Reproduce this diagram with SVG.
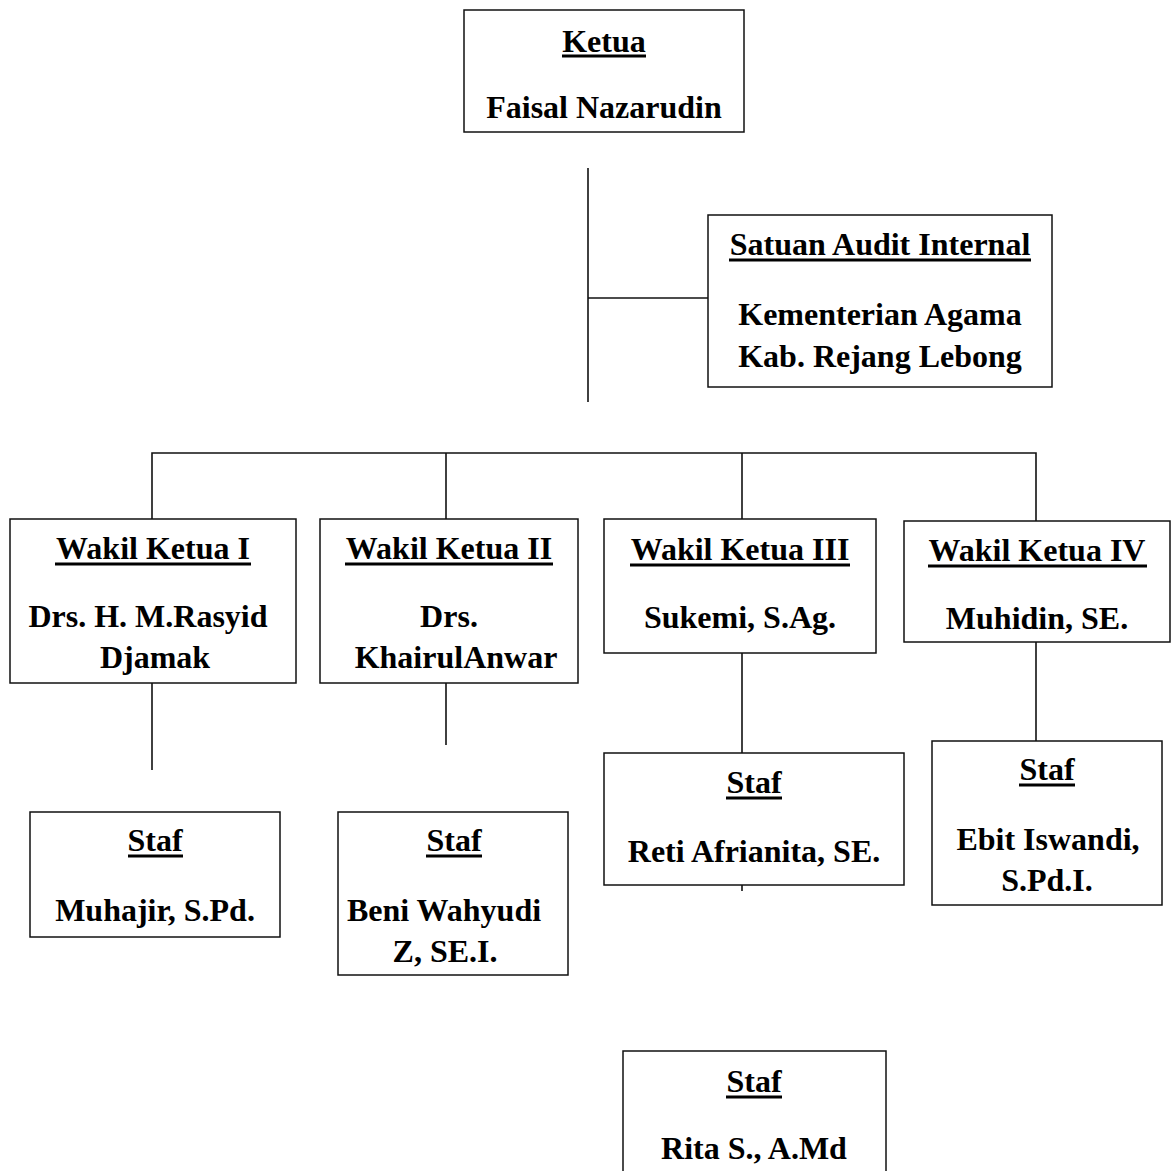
<svg xmlns="http://www.w3.org/2000/svg" width="1173" height="1171" viewBox="0 0 1173 1171">
<style>
.box{fill:#fff;stroke:#111;stroke-width:1.5}
.ln{stroke:#111;stroke-width:1.6;fill:none}
.ul{stroke:#000;stroke-width:3}
text{font-family:"Liberation Serif","Times New Roman",serif;font-weight:bold;font-size:32px;fill:#000;text-anchor:middle}
</style>
<rect width="1173" height="1171" fill="#fff"/>
<g id="connectors">
<line class="ln" x1="588" y1="168" x2="588" y2="402"/>
<line class="ln" x1="588" y1="298" x2="708" y2="298"/>
<polyline class="ln" points="152,519 152,453 1036,453 1036,521"/>
<line class="ln" x1="446" y1="453" x2="446" y2="519"/>
<line class="ln" x1="742" y1="453" x2="742" y2="519"/>
<line class="ln" x1="152" y1="683" x2="152" y2="770"/>
<line class="ln" x1="446" y1="683" x2="446" y2="745"/>
<line class="ln" x1="742" y1="653" x2="742" y2="753"/>
<line class="ln" x1="742" y1="885" x2="742" y2="891"/>
<line class="ln" x1="1036" y1="642" x2="1036" y2="741"/>
</g>
<g id="ketua">
<rect class="box" x="464" y="10" width="280" height="122"/>
<text x="604" y="52">Ketua</text>
<line class="ul" x1="562" y1="56" x2="646" y2="56"/>
<text x="604" y="118">Faisal Nazarudin</text>
</g>
<g id="satuan-audit">
<rect class="box" x="708" y="215" width="344" height="172"/>
<text x="880" y="255">Satuan Audit Internal</text>
<line class="ul" x1="729" y1="260" x2="1031" y2="260"/>
<text x="880" y="325">Kementerian Agama</text>
<text x="880" y="367">Kab. Rejang Lebong</text>
</g>
<g id="wakil-1">
<rect class="box" x="10" y="519" width="286" height="164"/>
<text x="153" y="559">Wakil Ketua I</text>
<line class="ul" x1="55" y1="564" x2="251" y2="564"/>
<text x="148" y="627">Drs. H. M.Rasyid</text>
<text x="155" y="668">Djamak</text>
</g>
<g id="wakil-2">
<rect class="box" x="320" y="519" width="258" height="164"/>
<text x="449" y="559">Wakil Ketua II</text>
<line class="ul" x1="345" y1="564" x2="553" y2="564"/>
<text x="449" y="627">Drs.</text>
<text x="456" y="668">KhairulAnwar</text>
</g>
<g id="wakil-3">
<rect class="box" x="604" y="519" width="272" height="134"/>
<text x="740" y="560">Wakil Ketua III</text>
<line class="ul" x1="630" y1="565" x2="850" y2="565"/>
<text x="740" y="628">Sukemi, S.Ag.</text>
</g>
<g id="wakil-4">
<rect class="box" x="904" y="521" width="266" height="121"/>
<text x="1037" y="561">Wakil Ketua IV</text>
<line class="ul" x1="928" y1="566" x2="1147" y2="566"/>
<text x="1037" y="629">Muhidin, SE.</text>
</g>
<g id="staf-1">
<rect class="box" x="30" y="812" width="250" height="125"/>
<text x="155" y="851">Staf</text>
<line class="ul" x1="128" y1="856" x2="183" y2="856"/>
<text x="155" y="921">Muhajir, S.Pd.</text>
</g>
<g id="staf-2">
<rect class="box" x="338" y="812" width="230" height="163"/>
<text x="454" y="851">Staf</text>
<line class="ul" x1="426" y1="856" x2="482" y2="856"/>
<text x="444" y="921">Beni Wahyudi</text>
<text x="445" y="962">Z, SE.I.</text>
</g>
<g id="staf-3">
<rect class="box" x="604" y="753" width="300" height="132"/>
<text x="754" y="793">Staf</text>
<line class="ul" x1="726" y1="798" x2="782" y2="798"/>
<text x="754" y="862">Reti Afrianita, SE.</text>
</g>
<g id="staf-4">
<rect class="box" x="932" y="741" width="230" height="164"/>
<text x="1047" y="780">Staf</text>
<line class="ul" x1="1019" y1="785" x2="1075" y2="785"/>
<text x="1048" y="850">Ebit Iswandi,</text>
<text x="1047" y="891">S.Pd.I.</text>
</g>
<g id="staf-5">
<rect class="box" x="623" y="1051" width="263" height="130"/>
<text x="754" y="1092">Staf</text>
<line class="ul" x1="726" y1="1097" x2="782" y2="1097"/>
<text x="754" y="1159">Rita S., A.Md</text>
</g>
</svg>
